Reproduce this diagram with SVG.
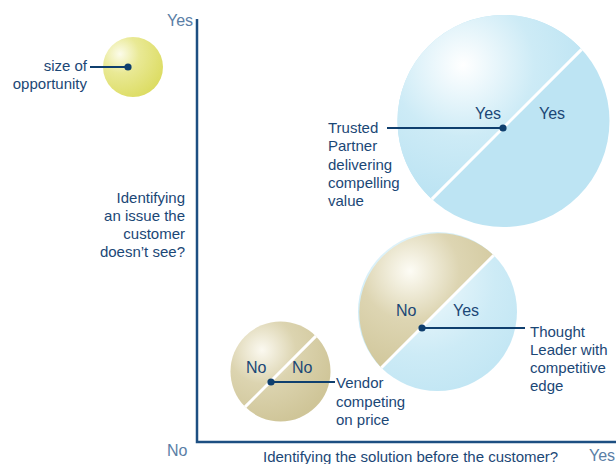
<svg xmlns="http://www.w3.org/2000/svg" width="616" height="464" viewBox="0 0 616 464">
<style>
text{font-family:"Liberation Sans",Arial,sans-serif;fill:#1b4776}
.lbl{font-size:15px}
.end{text-anchor:end}
.in{font-size:16px}
.ax{font-size:16px;fill:#5a7ea6}
.conn{stroke:#0f3f6e;stroke-width:1.8;fill:none}
.dot{fill:#0f3f6e}
.div{stroke:#ffffff;stroke-width:3}
.axis{stroke:#1d4f82;stroke-width:2.5;fill:none}
</style>
<defs>
<radialGradient id="gYel" gradientUnits="userSpaceOnUse" cx="120" cy="54" r="48">
<stop offset="0" stop-color="#fcfcea"/><stop offset="0.4" stop-color="#e9e995"/><stop offset="1" stop-color="#dcdc62"/>
</radialGradient>
<radialGradient id="gTanS" gradientUnits="userSpaceOnUse" cx="262" cy="350" r="75">
<stop offset="0" stop-color="#fbf9f0"/><stop offset="0.45" stop-color="#dcd4b0"/><stop offset="1" stop-color="#cfc598"/>
</radialGradient>
<radialGradient id="gTanM" gradientUnits="userSpaceOnUse" cx="410" cy="271" r="110">
<stop offset="0" stop-color="#fdfcf5"/><stop offset="0.45" stop-color="#ddd5b2"/><stop offset="1" stop-color="#cfc598"/>
</radialGradient>
<radialGradient id="gBlueM" gradientUnits="userSpaceOnUse" cx="420" cy="280" r="150">
<stop offset="0" stop-color="#f2fafd"/><stop offset="0.5" stop-color="#cdebf6"/><stop offset="1" stop-color="#b9e2f2"/>
</radialGradient>
<radialGradient id="gBlueB" gradientUnits="userSpaceOnUse" cx="463" cy="65" r="130">
<stop offset="0" stop-color="#ffffff"/><stop offset="0.55" stop-color="#cdebf6"/><stop offset="1" stop-color="#bde4f3"/>
</radialGradient>
</defs>

<g id="axes">
<path class="axis" d="M197 19 V442 H616"/>
<text class="ax" x="167" y="26">Yes</text>
<text class="ax" x="167" y="456">No</text>
<text class="ax" x="589" y="461" font-size="15.5">Yes</text>
<text class="lbl" x="263" y="462">Identifying the solution before the customer?</text>
<text class="lbl end" x="185" y="203">Identifying</text>
<text class="lbl end" x="185" y="221">an issue the</text>
<text class="lbl end" x="185" y="239">customer</text>
<text class="lbl end" x="185" y="257">doesn’t see?</text>
</g>

<g id="legend-size">
<circle cx="133" cy="67" r="30" fill="url(#gYel)"/>
<text class="lbl end" x="87" y="71">size of</text>
<text class="lbl end" x="87" y="89">opportunity</text>
</g>

<g id="trusted-partner">
<circle cx="503.5" cy="121" r="106" fill="#bde4f3"/>
<path d="M581.63 49.37 A106 106 0 1 0 431.87 199.13 Z" fill="url(#gBlueB)"/>
<line class="div" x1="581.63" y1="49.37" x2="431.87" y2="199.13"/>
<text class="in" x="475" y="119">Yes</text>
<text class="in" x="539" y="119">Yes</text>
<text class="lbl" x="328" y="133">Trusted</text>
<text class="lbl" x="328" y="151.3">Partner</text>
<text class="lbl" x="328" y="169.6">delivering</text>
<text class="lbl" x="328" y="187.9">compelling</text>
<text class="lbl" x="328" y="206.2">value</text>
</g>

<g id="thought-leader">
<circle cx="437.5" cy="311.5" r="79.5" fill="url(#gBlueM)"/>
<path d="M493.7 255.3 A79.5 79.5 0 0 0 381.3 367.7 Z" fill="url(#gTanM)"/>
<line class="div" x1="493.7" y1="255.3" x2="381.3" y2="367.7"/>
<text class="in" x="396" y="316">No</text>
<text class="in" x="453" y="316">Yes</text>
<text class="lbl" x="530" y="337">Thought</text>
<text class="lbl" x="530" y="355">Leader with</text>
<text class="lbl" x="530" y="373">competitive</text>
<text class="lbl" x="530" y="391">edge</text>
</g>

<g id="vendor">
<circle cx="280.5" cy="371.5" r="50" fill="url(#gTanS)"/>
<line class="div" x1="315.9" y1="336.1" x2="245.1" y2="406.9"/>
<text class="in" x="246" y="373">No</text>
<text class="in" x="292" y="373">No</text>
<text class="lbl" x="336" y="388">Vendor</text>
<text class="lbl" x="336" y="406.5">competing</text>
<text class="lbl" x="336" y="425">on price</text>
</g>

<g id="connectors">
<line class="conn" x1="90" y1="67" x2="128" y2="67"/>
<circle class="dot" cx="128" cy="67" r="3.6"/>
<line class="conn" x1="387" y1="128" x2="503" y2="128"/>
<circle class="dot" cx="503" cy="128" r="3.6"/>
<line class="conn" x1="422" y1="328" x2="525" y2="328"/>
<circle class="dot" cx="422" cy="328" r="3.6"/>
<line class="conn" x1="271" y1="382" x2="335" y2="382"/>
<circle class="dot" cx="271" cy="382" r="3.6"/>
</g>
</svg>
